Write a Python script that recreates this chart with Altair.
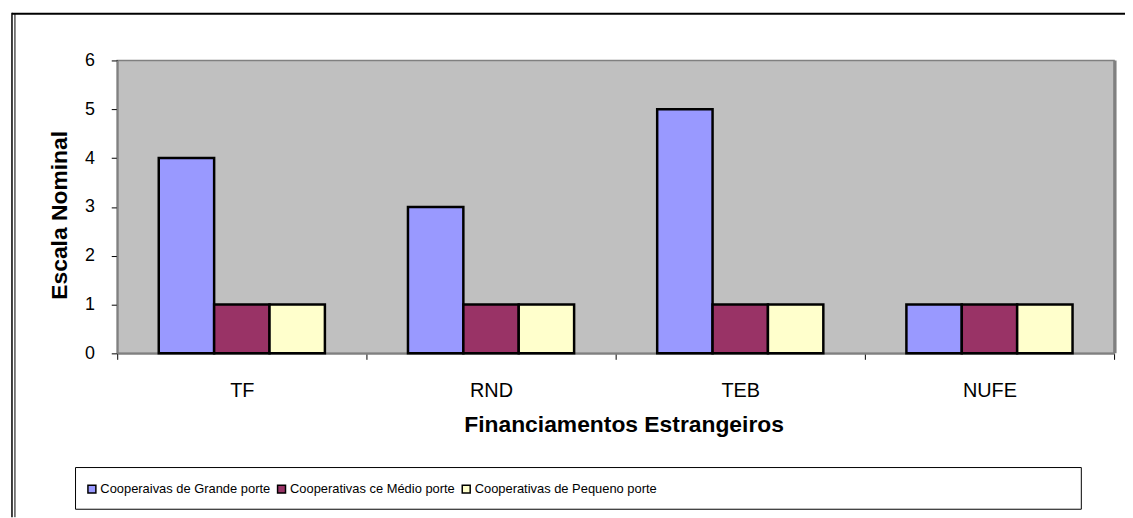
import altair as alt
import pandas as pd

categories = ["TF", "RND", "TEB", "NUFE"]
series = [
    "Cooperaivas de Grande porte",
    "Cooperativas ce Médio porte",
    "Cooperativas de Pequeno porte",
]
grande = [4, 3, 5, 1]
medio = [1, 1, 1, 1]
pequeno = [1, 1, 1, 1]
colors = ["#9999FF", "#993366", "#FFFFCC"]
y_ticks = [0, 1, 2, 3, 4, 5, 6]

rows = []
for s, vals in zip(series, [grande, medio, pequeno]):
    for c, v in zip(categories, vals):
        rows.append({"cat": c, "series": s, "val": v})
df = pd.DataFrame(rows)

FONT = "Liberation Sans, Arial, sans-serif"

W, H = 1004, 295

bars = alt.Chart(df).mark_bar(stroke="black", strokeWidth=2.5).encode(
    x=alt.X(
        "cat:N",
        sort=categories,
        scale=alt.Scale(paddingInner=0, paddingOuter=0),
        axis=alt.Axis(
            title="Financiamentos Estrangeiros",
            labelAngle=0,
            tickBand="extent",
            domainColor="#808080",
            domainWidth=2,
            tickColor="#000000",
            tickSize=6,
            labelFont=FONT,
            labelFontSize=20,
            labelColor="#000000",
            labelPadding=21,
            titleFont=FONT,
            titleFontSize=23,
            titleFontWeight="bold",
            titleColor="#000000",
            titleX=510,
            titleY=72,
            titleAlign="center",
            titleBaseline="middle",
        ),
    ),
    xOffset=alt.XOffset(
        "series:N", sort=series, scale=alt.Scale(paddingInner=0, paddingOuter=0.75)
    ),
    y=alt.Y(
        "val:Q",
        scale=alt.Scale(domain=[0, 6]),
        axis=alt.Axis(
            values=y_ticks,
            title="Escala Nominal",
            grid=False,
            domainColor="#808080",
            domainWidth=2,
            tickColor="#000000",
            tickSize=6,
            labelFont=FONT,
            labelFontSize=18,
            labelColor="#000000",
            labelPadding=17,
            titleFont=FONT,
            titleFontSize=23,
            titleFontWeight="bold",
            titleColor="#000000",
            titleAngle=270,
            titleX=-58,
            titleY=H / 2 + 8,
            titleAlign="center",
            titleBaseline="middle",
        ),
    ),
    color=alt.Color(
        "series:N",
        sort=series,
        scale=alt.Scale(domain=series, range=colors),
        legend=alt.Legend(
            title=None,
            orient="none",
            legendX=-32,
            legendY=425,
            direction="horizontal",
            columns=3,
            columnPadding=3,
            symbolType="square",
            symbolSize=64,
            symbolStrokeColor="black",
            symbolStrokeWidth=1.5,
            labelFont=FONT,
            labelFontSize=13,
            labelColor="#000000",
            labelOffset=2,
            labelLimit=0,
            padding=0,
        ),
    ),
)

one = pd.DataFrame({"a": [0]})

shadow = alt.Chart(one).mark_rule(color="#808080", strokeWidth=3).encode(
    x=alt.value(W + 1), y=alt.value(0), y2=alt.value(H)
)

legend_box = alt.Chart(one).mark_rect(
    fillOpacity=0, stroke="black", strokeWidth=1
).encode(x=alt.value(-42), x2=alt.value(971), y=alt.value(410), y2=alt.value(452))

frame_top = alt.Chart(one).mark_rule(color="black", strokeWidth=2).encode(
    x=alt.value(-106), x2=alt.value(1015), y=alt.value(-47)
)

frame_left = alt.Chart(one).mark_rule(color="black", strokeWidth=1.5).encode(
    x=alt.value(-106), y=alt.value(-48), y2=alt.value(460)
)

frame_left2 = alt.Chart(one).mark_rule(color="black", strokeWidth=1).encode(
    x=alt.value(-103), y=alt.value(-47), y2=alt.value(460)
)

chart = (
    alt.layer(bars, shadow, legend_box, frame_top, frame_left, frame_left2)
    .properties(
        width=W,
        height=H,
        padding={"left": 110, "top": 51, "right": 11, "bottom": 164},
        autosize=alt.AutoSizeParams(type="none"),
        background="white",
    )
    .configure_view(fill="#C0C0C0", stroke="#808080", strokeWidth=1.5)
)

chart.save("out.html", embed_options={"renderer": "svg", "actions": False})
